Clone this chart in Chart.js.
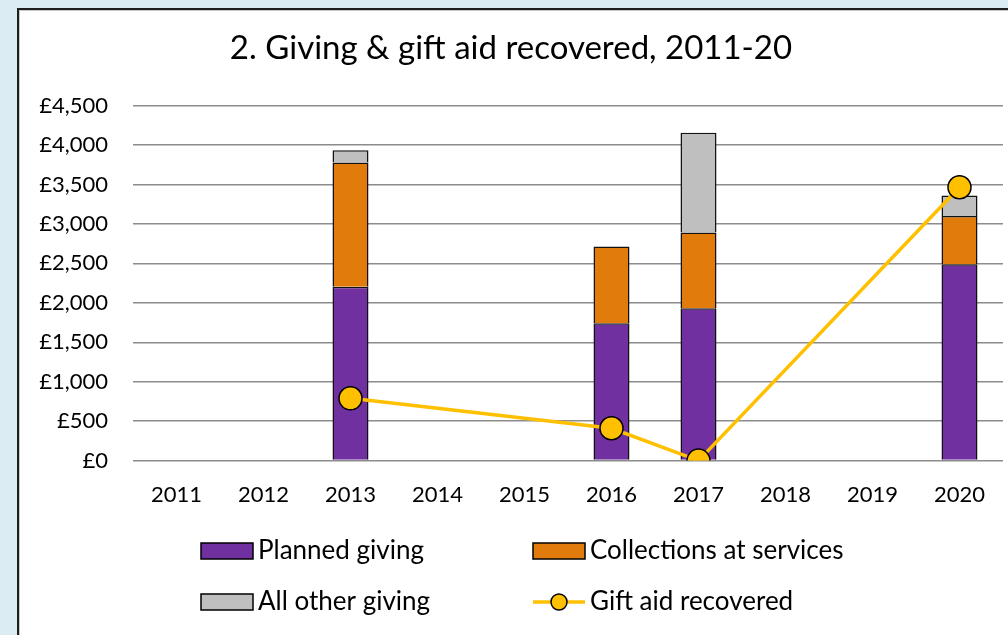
<!DOCTYPE html>
<html>
<head>
<meta charset="utf-8">
<title>Giving & gift aid recovered</title>
<script src="https://cdn.jsdelivr.net/npm/chart.js@4"></script>
<style>
  html, body { margin: 0; padding: 0; width: 1008px; height: 635px; overflow: hidden; background: #dbedf3; }
  #panel { position: absolute; left: 17px; top: 8px; width: 1030px; height: 700px; background: #fff; border: 2px solid #1e1e1e; box-shadow: inset 1px 1px 0 #c8c8c8; }
  #chart { position: absolute; left: 0; top: 0; }
</style>
</head>
<body>
<div id="panel">
  <canvas id="chart" width="1008" height="625" style="width:1008px;height:625px"></canvas>
</div>
<script>
'use strict';
// data
var years = ['2011','2012','2013','2014','2015','2016','2017','2018','2019','2020'];
var plannedGiving = [null, null, 2205, null, null, 1740, 1930, null, null, 2490];
var collections = [null, null, 1575, null, null, 975, 960, null, null, 610];
var otherGiving = [null, null, 155, null, null, null, 1265, null, null, 260];
var giftAid = [null, null, 790, null, null, 410, 0, null, null, 3465];
var seriesNames = ['Planned giving', 'Collections at services', 'All other giving', 'Gift aid recovered'];
var yTicks = [0, 500, 1000, 1500, 2000, 2500, 3000, 3500, 4000, 4500];

var fontFamily = 'Lato, "Open Sans", sans-serif';

// legend in two columns, drawn under the axis
var gridLegend = {
  id: 'gridLegend',
  afterDraw: function(chart){
    var ctx = chart.ctx;
    var colX = [182, 514];
    var rowY = [541, 592];
    ctx.save();
    ctx.font = '26px ' + fontFamily;
    ctx.textBaseline = 'middle';
    ctx.fillStyle = '#000';
    for (var i = 0; i < chart.data.datasets.length; i++){
      var ds = chart.data.datasets[i];
      var x = colX[i % 2];
      var y = rowY[Math.floor(i / 2)];
      if (ds.type === 'line'){
        ctx.strokeStyle = ds.borderColor;
        ctx.lineWidth = 3.5;
        ctx.beginPath();
        ctx.moveTo(x, y);
        ctx.lineTo(x + 52, y);
        ctx.stroke();
        ctx.beginPath();
        ctx.arc(x + 26, y, 8, 0, Math.PI * 2);
        ctx.fillStyle = ds.pointBackgroundColor;
        ctx.fill();
        ctx.lineWidth = 1.5;
        ctx.strokeStyle = '#000';
        ctx.stroke();
      } else {
        ctx.fillStyle = ds.backgroundColor;
        ctx.fillRect(x, y - 8, 52, 16);
        ctx.lineWidth = 1.5;
        ctx.strokeStyle = '#000';
        ctx.strokeRect(x, y - 8, 52, 16);
      }
      ctx.fillStyle = '#000';
      ctx.fillText(ds.label, x + 57, y);
    }
    ctx.restore();
  }
};

var placeOfChart = document.getElementById('chart').getContext('2d');
var chart = new Chart(placeOfChart, {
  type: 'bar',
  data: {
    labels: years,
    datasets: [{
      label: seriesNames[0],
      data: plannedGiving,
      backgroundColor: '#7030a0',
      borderColor: '#111',
      borderWidth: 1.5,
      order: 1
    }, {
      label: seriesNames[1],
      data: collections,
      backgroundColor: '#e07b0c',
      borderColor: '#111',
      borderWidth: 1.5,
      order: 1
    }, {
      label: seriesNames[2],
      data: otherGiving,
      backgroundColor: '#bfbfbf',
      borderColor: '#111',
      borderWidth: 1.5,
      order: 1
    }, {
      type: 'line',
      label: seriesNames[3],
      data: giftAid,
      stack: 'giftaid',
      borderColor: '#ffc000',
      borderWidth: 3.5,
      pointBackgroundColor: '#ffc000',
      pointBorderColor: '#000',
      pointBorderWidth: 1.5,
      pointRadius: 11.5,
      spanGaps: true,
      order: 0
    }]
  },
  options: {
    responsive: false,
    animation: false,
    datasets: { bar: { categoryPercentage: 1, barPercentage: 0.414 } },
    layout: { padding: { left: 0, right: 24, top: 0, bottom: 114 } },
    plugins: {
      legend: { display: false },
      tooltip: { enabled: false },
      title: {
        display: true,
        text: '2. Giving & gift aid recovered, 2011-20',
        color: '#000',
        font: { family: fontFamily, size: 33, weight: 'normal' },
        padding: { top: 19, bottom: 37 }
      }
    },
    scales: {
      x: {
        stacked: true,
        grid: { display: false },
        border: { display: false },
        ticks: { color: '#000', padding: 13, font: { family: fontFamily, size: 22 } }
      },
      y: {
        stacked: true,
        min: 0,
        max: 4500,
        afterBuildTicks: function(scale){
          scale.ticks = yTicks.map(function(v){ return { value: v }; });
        },
        afterFit: function(scale){ scale.width = 114; },
        grid: { color: '#8c8c8c', lineWidth: 1.5, drawTicks: false },
        border: { display: false },
        ticks: {
          color: '#000',
          padding: 25,
          font: { family: fontFamily, size: 22 },
          callback: function(v){ return '£' + v.toLocaleString('en-GB'); }
        }
      }
    }
  },
  plugins: [gridLegend]
});
</script>
</body>
</html>
